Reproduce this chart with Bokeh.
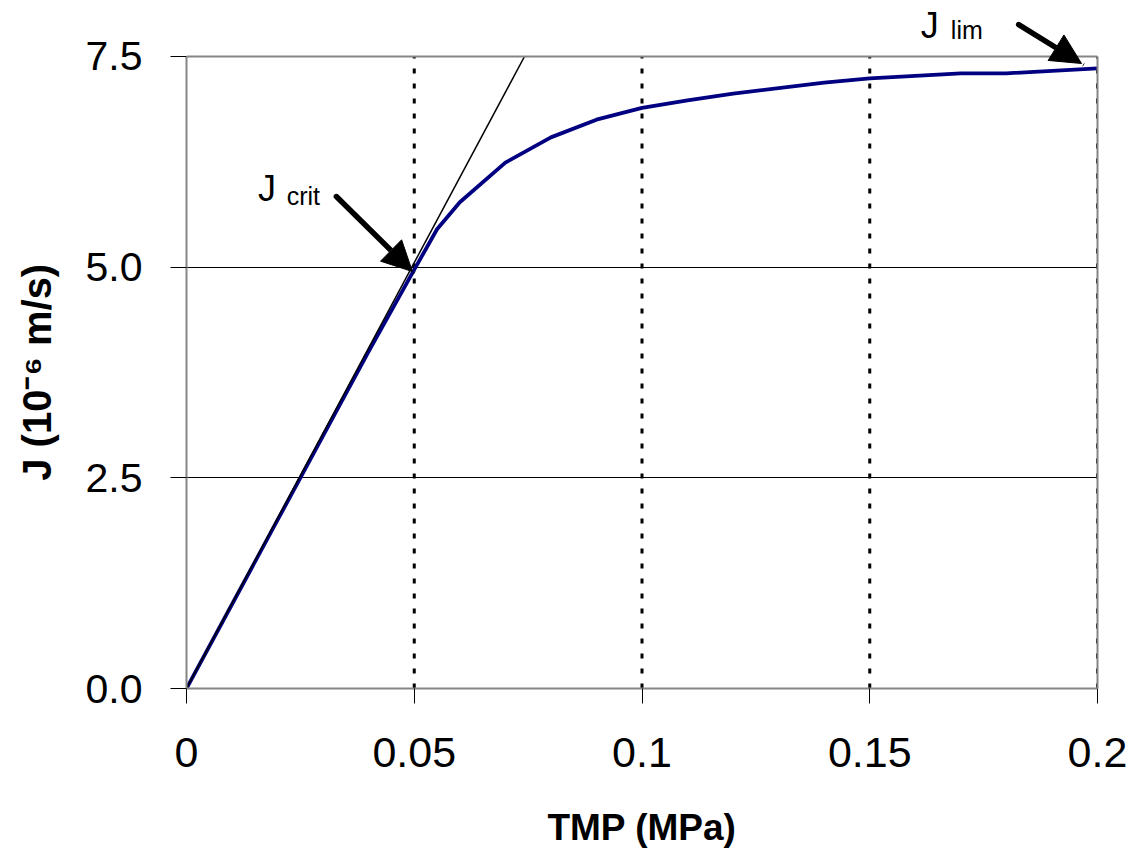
from bokeh.plotting import figure
from bokeh.models import Range1d, FixedTicker, Label, Arrow, NormalHead, Span, LinearAxis
from bokeh.embed import file_html
from bokeh.resources import INLINE

# ---- data ----
tmp = [0.0, 0.01, 0.02, 0.03, 0.04, 0.05, 0.055, 0.06, 0.07, 0.08, 0.09, 0.10,
       0.11, 0.12, 0.14, 0.15, 0.17, 0.18, 0.20]
flux = [0.0, 1.0, 2.0, 3.0, 4.0, 4.97, 5.45, 5.77, 6.24, 6.54, 6.75, 6.89,
        6.98, 7.06, 7.19, 7.24, 7.30, 7.30, 7.36]
tangent_tmp = [0.0, 0.0742]
tangent_flux = [0.0, 7.5]

x_ticks = [0, 0.05, 0.1, 0.15, 0.2]
x_tick_labels = ["0", "0.05", "0.1", "0.15", "0.2"]
y_ticks = [0, 2.5, 5.0, 7.5]
y_tick_labels = ["0.0", "2.5", "5.0", "7.5"]
x_grid_lines = [0.05, 0.1, 0.15, 0.2]
y_grid_lines = [2.5, 5.0]
x_min, x_max = 0.0, 0.2
y_min, y_max = 0.0, 7.5
y_view_top = 8.1645   # room above the plot box for the "J lim" note

# annotation anchors (data units)
crit_arrow = (0.0329, 5.838, 0.0496, 4.948)
lim_arrow = (0.1827, 7.879, 0.1965, 7.417)
crit_J = (0.0157, 5.93)
crit_sub = (0.0220, 5.85)
lim_J = (0.1612, 7.87)
lim_sub = (0.1678, 7.81)

FONT = "Liberation Sans"
GRAY = "#858585"

p = figure(width=1132, height=851, output_backend="svg", toolbar_location=None,
           x_range=Range1d(x_min, x_max), y_range=Range1d(y_min, y_view_top),
           min_border_left=186, min_border_right=35,
           min_border_top=0, min_border_bottom=163)
p.background_fill_color = "white"
p.border_fill_color = "white"
p.outline_line_color = None

# axes
for ax in (p.xaxis, p.yaxis):
    ax.axis_line_color = GRAY
    ax.axis_line_width = 2
    ax.major_tick_line_color = "black"
    ax.major_tick_line_width = 1
    ax.major_tick_in = 0
    ax.minor_tick_line_color = None
    ax.major_label_text_font = FONT
    ax.major_label_text_color = "black"
    ax.axis_label_text_font = FONT
    ax.axis_label_text_font_style = "bold"
    ax.axis_label_text_color = "black"

p.xaxis.ticker = FixedTicker(ticks=x_ticks)
p.xaxis.major_label_overrides = {t: l for t, l in zip(x_ticks, x_tick_labels)}
p.xaxis.major_tick_out = 15
p.xaxis.major_label_standoff = 34
p.xaxis.major_label_text_font_size = "43px"
p.xaxis.axis_label = "TMP (MPa)"
p.xaxis.axis_label_text_font_size = "37px"
p.xaxis.axis_label_standoff = 37

p.yaxis.ticker = FixedTicker(ticks=y_ticks)
p.yaxis.bounds = (y_min, y_max)
p.yaxis.major_label_overrides = {t: l for t, l in zip(y_ticks, y_tick_labels)}
p.yaxis.major_tick_out = 16
p.yaxis.major_label_standoff = 28
p.yaxis.major_label_text_font_size = "41px"
# trailing no-break spaces centre the visible title on the 0-7.5 box
p.yaxis.axis_label = "J (10\u207b\u2076 m/s)" + "\u00a0" * 5
p.yaxis.axis_label_text_font_size = "40px"
p.yaxis.axis_label_standoff = 24

# right border of the plot box
right = LinearAxis(bounds=(y_min, y_max), ticker=FixedTicker(ticks=[]),
                   axis_line_color=GRAY, axis_line_width=2,
                   major_tick_line_color=None, minor_tick_line_color=None,
                   major_label_text_font_size="0px")
p.add_layout(right, "right")
# top border
p.add_layout(Span(location=y_max, dimension="width", line_color=GRAY, line_width=2))

# grids
p.xgrid.visible = False
p.ygrid.ticker = FixedTicker(ticks=y_grid_lines)
p.ygrid.grid_line_color = "black"
p.ygrid.grid_line_width = 1
p.segment(x0=x_grid_lines, y0=[y_min] * len(x_grid_lines),
          x1=x_grid_lines, y1=[y_max] * len(x_grid_lines),
          line_color="black", line_width=3, line_dash="5 10")

# series
p.line(tmp, flux, line_color="#000080", line_width=3.8)
p.line(tangent_tmp, tangent_flux, line_color="black", line_width=1.5)

# arrows
for (xs, ys, xe, ye) in (crit_arrow, lim_arrow):
    p.add_layout(Arrow(end=NormalHead(size=30, fill_color="black", line_color="black"),
                       x_start=xs, y_start=ys, x_end=xe, y_end=ye,
                       line_color="black", line_width=5.5, line_cap="round"))

# annotation texts
def txt(x, y, s, size):
    p.add_layout(Label(x=x, y=y, text=s, text_font=FONT, text_font_size=size,
                       text_color="black", text_baseline="alphabetic"))

txt(crit_J[0], crit_J[1], "J", "36px")
txt(crit_sub[0], crit_sub[1], "crit", "25px")
txt(lim_J[0], lim_J[1], "J", "36px")
txt(lim_sub[0], lim_sub[1], "lim", "25px")

open("out.html", "w").write(file_html(p, INLINE))
